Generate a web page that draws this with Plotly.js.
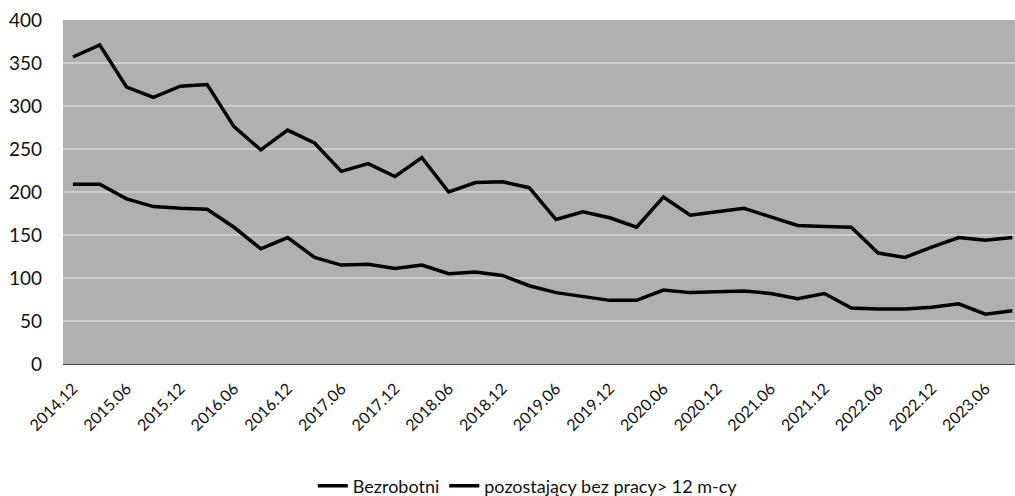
<!DOCTYPE html>
<html>
<head>
<meta charset="utf-8">
<script src="https://cdn.plot.ly/plotly-3.0.1.min.js"></script>
<style>html,body{margin:0;padding:0;background:#fff;}#chart{width:1015px;height:496px;}</style>
</head>
<body>
<div id="chart"></div>
<script>
const categories = [
  "2014.12","2015.03","2015.06","2015.09","2015.12","2016.03","2016.06","2016.09",
  "2016.12","2017.03","2017.06","2017.09","2017.12","2018.03","2018.06","2018.09",
  "2018.12","2019.03","2019.06","2019.09","2019.12","2020.03","2020.06","2020.09",
  "2020.12","2021.03","2021.06","2021.09","2021.12","2022.03","2022.06","2022.09",
  "2022.12","2023.03","2023.06","2023.09"
];
const bezrobotni = [
  357,371,322,310,323,325,276,249,
  272,257,224,233,218,240,200,211,
  212,205,168,177,170,159,194,173,
  177,181,171,161,160,159,129,124,
  136,147,144,147
];
const powyzej12 = [
  209,209,192,183,181,180,159,134,
  147,124,115,116,111,115,105,107,
  103,91,83,78,74,74,86,83,
  84,85,82,76,82,65,64,64,
  66,70,58,62
];
const tickLabels = [
  "2014.12","2015.06","2015.12","2016.06","2016.12","2017.06","2017.12","2018.06",
  "2018.12","2019.06","2019.12","2020.06","2020.12","2021.06","2021.12","2022.06",
  "2022.12","2023.06"
];
const seriesNames = ["Bezrobotni", "pozostający bez pracy> 12 m-cy"];

const FONT = "Lato, 'Open Sans', sans-serif";

const traces = [
  {
    type: "scatter", mode: "lines", name: seriesNames[0],
    x: categories, y: bezrobotni,
    line: {color: "#000000", width: 3.5}
  },
  {
    type: "scatter", mode: "lines", name: seriesNames[1],
    x: categories, y: powyzej12,
    line: {color: "#000000", width: 3.5}
  }
];

const layout = {
  width: 1015, height: 496,
  margin: {l: 63, r: 0, t: 20, b: 132},
  paper_bgcolor: "#ffffff",
  plot_bgcolor: "#b0b0b0",
  font: {family: FONT, color: "#111111", size: 16},
  showlegend: true,
  legend: {
    orientation: "h", x: 0.52, xanchor: "center", xref: "container",
    y: 0.02, yanchor: "middle", yref: "container",
    font: {family: FONT, size: 18, color: "#111111"},
    bgcolor: "rgba(0,0,0,0)", tracegroupgap: 0
  },
  xaxis: {
    type: "category", automargin: false,
    range: [-0.37, 35.1],
    tickmode: "array", tickvals: tickLabels, ticktext: tickLabels,
    tickangle: -45,
    tickfont: {family: FONT, size: 16, color: "#111111"},
    ticks: "", ticklabelstandoff: 8,
    showgrid: false, zeroline: false,
    showline: true, linecolor: "#444444", linewidth: 1
  },
  yaxis: {
    automargin: false,
    range: [0, 400], dtick: 50, tick0: 0,
    tickfont: {family: FONT, size: 19, color: "#111111"},
    ticks: "", ticklabelstandoff: 20,
    showgrid: true, gridcolor: "#cdcdcd", gridwidth: 1.5,
    zeroline: false, showline: false
  }
};

Plotly.newPlot("chart", traces, layout, {displayModeBar: false, staticPlot: true});
</script>
</body>
</html>
